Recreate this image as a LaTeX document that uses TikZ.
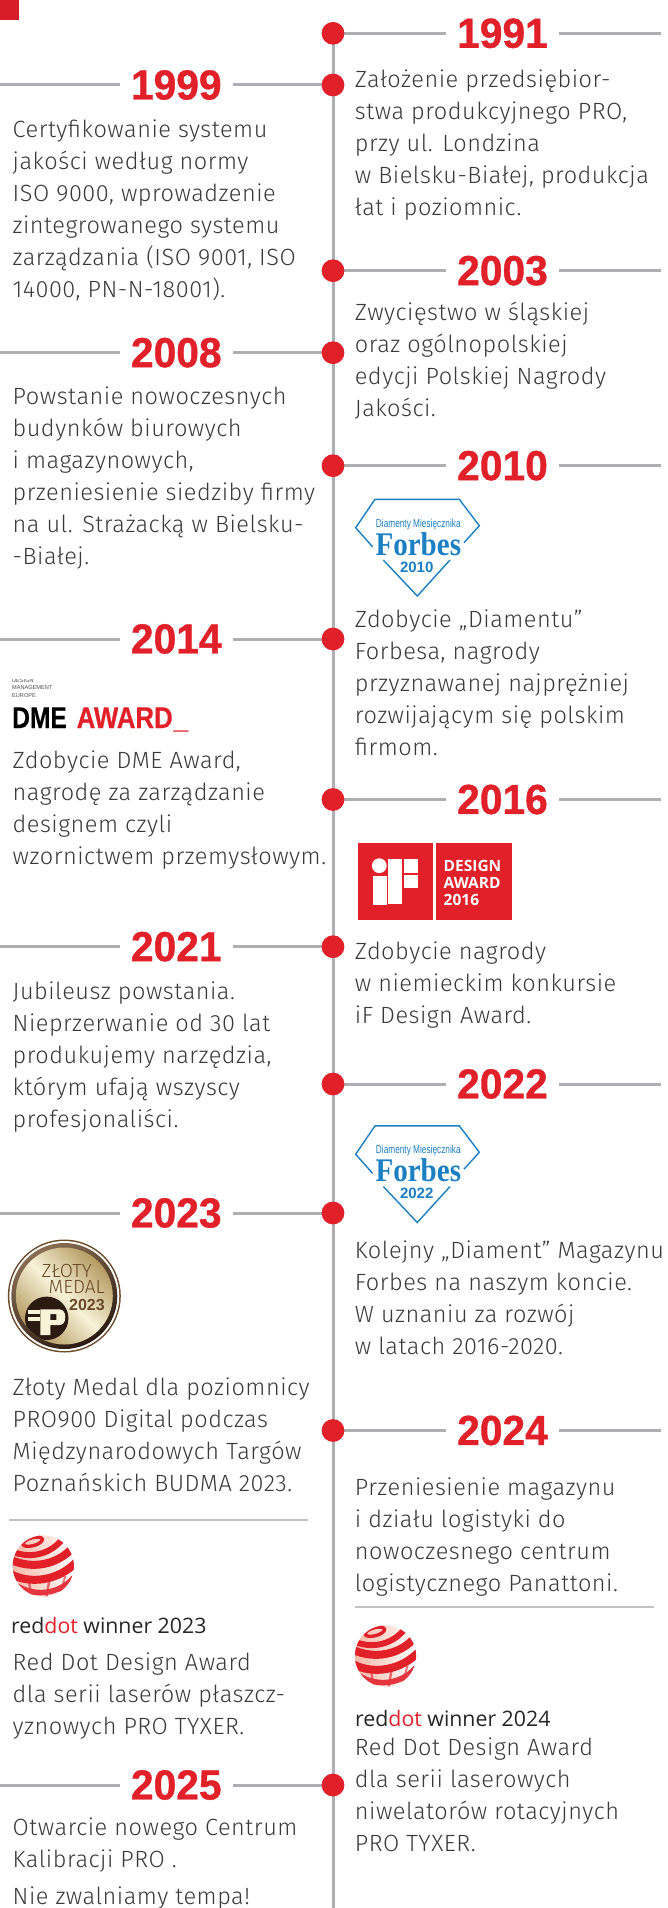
\documentclass[tikz,border=0pt]{standalone}
\usepackage{fontspec}
\setmainfont{Fira Sans Light}[LetterSpace=2.2]
\newfontfamily\yrfont{Liberation Sans Bold}[FakeBold=0.9,FakeStretch=0.97]
\newfontfamily\medalbold{Liberation Sans Bold}
\newfontfamily\fbsans{Liberation Sans}[FakeStretch=0.72]
\newfontfamily\fbsansb{Liberation Sans Bold}
\newfontfamily\fbserif{Liberation Serif Bold}[FakeStretch=0.88]
\newfontfamily\dmefont{Liberation Sans Bold}[FakeStretch=0.82,FakeBold=0.5]
\newfontfamily\awardfont{Liberation Sans Bold}[FakeStretch=0.86,FakeBold=0.5]
\newfontfamily\dmetiny{Liberation Sans}
\newfontfamily\rdfont{Open Sans}
\newfontfamily\ifont{Open Sans Bold}
\newfontfamily\medalfont{Fira Sans Light}
\definecolor{cred}{HTML}{E2202A}
\definecolor{cgray}{HTML}{AFAFB3}
\definecolor{cline}{HTML}{C2C2C7}
\definecolor{ctext}{HTML}{3A3A3C}
\definecolor{cblue}{HTML}{1B80C3}
\definecolor{cbrown}{HTML}{6A4A28}
\definecolor{cdark}{HTML}{2A1A10}
\definecolor{goldB}{HTML}{B49A60}
\definecolor{goldL}{HTML}{F8F2D8}
\definecolor{cpink}{HTML}{F6B8A6}
\pgfdeclarelayer{lines}
\pgfsetlayers{lines,main}
\tikzset{
  axisline/.style={draw=cgray,line width=3pt},
  septline/.style={draw=cline,line width=1.5pt},
  dotnode/.style={circle,fill=cred,minimum size=22.8pt,inner sep=0pt},
  yearnode/.style={text=cred,font=\fontsize{42}{42}\yrfont,minimum width=113pt,inner sep=0pt,anchor=center},
  bodytext/.style={text=ctext,font=\fontsize{23.5}{32}\selectfont,align=left,inner sep=0pt,anchor=north west},
  forbesline/.style={draw=cblue,line width=1.4pt},
  ballband/.style={draw=cred,line cap=round},
}
\newcommand{\blk}[4]{\node[bodytext] (#1) at (#2,#3-20) {\rule{0pt}{20pt}#4};}
\newcommand{\rightyear}[3]{%
  \node[dotnode] (d#1) at (333,#2) {};
  \node[yearnode] (y#1) at (502.5,#2) {#3};
  \coordinate (e#1) at (661,#2);
}
\newcommand{\leftyear}[3]{%
  \node[dotnode] (d#1) at (333,#2) {};
  \node[yearnode] (y#1) at (176.3,#2) {#3};
  \coordinate (e#1) at (0,#2);
}
\newcommand{\forbes}[3]{%
  \begin{scope}[shift={(340,#1)}]
    \draw[forbesline,line join=miter] (32.7,67) -- (15.7,47.7) -- (35,19.3) -- (119.3,19.3) -- (139.3,45.7) -- (124,62.7);
    \draw[forbesline,line join=miter] (43.3,80) -- (77.3,116) -- (110,80);
    \node[text=cblue,font=\fontsize{11.5}{12}\fbsans,inner sep=0pt] (fa#2) at (78.3,44.3) {Diamenty Miesięcznika};
    \node[text=cblue,font=\fontsize{33}{33}\fbserif,inner sep=0pt] (fb#2) at (78.3,64) {Forbes};
    \node[text=cblue,font=\fontsize{15}{15}\fbsansb,inner sep=0pt] (fc#2) at (76.7,87.3) {#3};
  \end{scope}
}
\newcommand{\rdball}[2]{%
  \begin{scope}[shift={(#1,#2)}]
    \clip (0,0) circle[radius=30.6pt];
    \shade[left color=cpink,right color=white] (-31,-31) rectangle (31,31);
    \draw[cred!70,line width=2.4pt] (-15,10) -- (-12,31);
    \draw[cred!70,line width=2.4pt] (6,14) -- (3,32);
    \draw[cred!60,line width=2pt] (22,10) -- (16,30);
    \draw[ballband,line width=3.4pt,rotate around={15:(-10.7,-24.3)}] (-10.7,-24.3) ellipse[x radius=10pt,y radius=4pt];
    \draw[ballband,line width=6pt] (-30,-14) .. controls (-12,-7) and (8,-12) .. (20,-28);
    \draw[ballband,line width=8pt] (-32,-6) .. controls (-12,3) and (14,0) .. (31,-20);
    \draw[ballband,line width=8pt] (-33,8) .. controls (-12,19) and (16,14) .. (33,-4);
    \draw[ballband,line width=5.5pt,cred!90] (-26,20) .. controls (-8,31) and (16,28) .. (30,12);
  \end{scope}
}
\begin{document}
\begin{tikzpicture}[x=1pt,y=-1pt]
\useasboundingbox (0,0) rectangle (668,1908);
\begin{pgfonlayer}{lines}
\fill[white] (0,0) rectangle (668,1908);
\end{pgfonlayer}
\fill[cred!95!black] (0,0) rectangle (19,20);
% ---- dots / years
\rightyear{a}{33.3}{1991}
\rightyear{b}{270.7}{2003}
\rightyear{c}{465.7}{2010}
\rightyear{d}{799.5}{2016}
\rightyear{e}{1084}{2022}
\rightyear{f}{1430.5}{2024}
\leftyear{g}{85}{1999}
\leftyear{h}{352.7}{2008}
\leftyear{i}{639}{2014}
\leftyear{j}{946.7}{2021}
\leftyear{k}{1213}{2023}
\leftyear{l}{1785}{2025}
\coordinate (axisend) at (333,1908);
\begin{pgfonlayer}{lines}
\draw[axisline] (da.center) -- (axisend);
\foreach \n in {a,b,c,d,e,f} {
  \draw[axisline] (d\n.center) -- (y\n.west);
  \draw[axisline] (y\n.east) -- (e\n);
}
\foreach \n in {g,h,i,j,k,l} {
  \draw[axisline] (e\n) -- (y\n.west);
  \draw[axisline] (y\n.east) -- (d\n.center);
}
\end{pgfonlayer}
% ---- right column
\blk{t1991}{354.7}{87}{Założenie przedsiębior-\\stwa produkcyjnego PRO,\\przy ul. Londzina\\w Bielsku-Białej, produkcja\\łat i poziomnic.}
\blk{t2003}{354.7}{320.7}{Zwycięstwo w śląskiej\\oraz ogólnopolskiej\\edycji Polskiej Nagrody\\Jakości.}
\forbes{480}{a}{2010}
\blk{t2010}{354.7}{627}{Zdobycie „Diamentu”\\Forbesa, nagrody\\przyznawanej najprężniej\\rozwijającym się polskim\\firmom.}
% iF logo
\fill[cred] (357.5,842.5) rectangle (432.7,920);
\fill[cred] (436.3,842.5) rectangle (511.7,920);
\begin{scope}[shift={(340,820)}]
  \fill[white] (39.3,45.7) circle[radius=7.4pt];
  \fill[white] (33,56) rectangle (47,85);
  \fill[white] (48,39.3) rectangle (62,84);
  \fill[white] (64,39.3) rectangle (78,53.3);
  \fill[white] (64,55) rectangle (78,68);
  \node[text=white,font=\fontsize{15.5}{17.2}\ifont,align=left,inner sep=0pt,anchor=north west] (iftext) at (103.5,40) {DESIGN\\AWARD\\2016};
\end{scope}
\blk{t2016}{354.7}{959}{Zdobycie nagrody\\w niemieckim konkursie\\iF Design Award.}
\forbes{1106.5}{b}{2022}
\blk{t2022}{354.7}{1258}{Kolejny „Diament” Magazynu\\Forbes na naszym koncie.\\W uznaniu za rozwój\\w latach 2016-2020.}
\blk{t2024}{354.7}{1495}{Przeniesienie magazynu\\i działu logistyki do\\nowoczesnego centrum\\logistycznego Panattoni.}
\coordinate (sepRa) at (355,1607);
\coordinate (sepRb) at (654,1607);
\draw[septline] (sepRa) -- (sepRb);
\rdball{385.5}{1656}
\node[anchor=base west,inner sep=0pt,font=\fontsize{21.3}{24}\rdfont,text=black!85] (rd24) at (355,1726) {red\textcolor{cred}{dot} winner 2024};
\blk{t2024b}{354.7}{1755}{Red Dot Design Award\\dla serii laserowych\\niwelatorów rotacyjnych\\PRO TYXER.}
% ---- left column
\blk{t1999}{12.5}{137}{Certyfikowanie systemu\\jakości według normy\\ISO 9000, wprowadzenie\\zintegrowanego systemu\\zarządzania (ISO 9001, ISO\\14000, PN-N-18001).}
\blk{t2008}{12.5}{404}{Powstanie nowoczesnych\\budynków biurowych\\i magazynowych,\\przeniesienie siedziby firmy\\na ul. Strażacką w Bielsku-\\-Białej.}
% DME logo
\begin{scope}
  \clip (0,679) rectangle (200,700);
  \node[anchor=base west,inner sep=0pt,font=\fontsize{5.6}{7.6}\dmetiny,text=black!70] (dmetop) at (12,682) {DESIGN};
  \node[anchor=base west,inner sep=0pt,font=\fontsize{5.6}{7.6}\dmetiny,text=black!70] (dmemid) at (12,689) {MANAGEMENT};
  \node[anchor=base west,inner sep=0pt,font=\fontsize{5.6}{7.6}\dmetiny,text=black!70] (dmelow) at (12,697) {EUROPE};
\end{scope}
\node[anchor=base west,inner sep=0pt,font=\fontsize{30}{30}\dmefont,text=black] (dmea) at (12,728) {DME};
\node[anchor=base west,inner sep=0pt,font=\fontsize{30}{30}\awardfont,text=cred] (dmeb) at (76.5,728) {AWARD\kern1pt\_};
\blk{t2014}{12.5}{768}{Zdobycie DME Award,\\nagrodę za zarządzanie\\designem czyli\\wzornictwem przemysłowym.}
\blk{t2021}{12.5}{999}{Jubileusz powstania.\\Nieprzerwanie od 30 lat\\produkujemy narzędzia,\\którym ufają wszyscy\\profesjonaliści.}
% Medal
\begin{scope}[shift={(64.3,1296)}]
  \fill[cbrown] (0,0) circle[radius=56.5pt];
  \fill[white] (0,0) circle[radius=55pt];
  \shade[top color=cbrown!80!white,bottom color=cdark,shading angle=30] (0,0) circle[radius=53pt];
  \shade[top color=goldB,bottom color=goldB,middle color=goldL,shading angle=-45] (0,0) circle[radius=48.5pt];
  \begin{scope}
    \clip (0,0) circle[radius=48.5pt];
    \fill[cdark] (-17.6,22.3) circle[radius=21.7pt];
    \fill[goldL,even odd rule] (-24,13.3) -- (-5,13.3) .. controls (-1,13.3) and (1,17) .. (1,21) .. controls (1,26) and (-1,29) .. (-5,29) -- (-14,29) -- (-14,39) -- (-24,39) -- cycle (-14,18) rectangle (-8,24);
    \fill[goldL] (-36,14) rectangle (-24,18);
    \fill[goldL] (-36,21.3) rectangle (-24,24.7);
  \end{scope}
  \node[text=cbrown,font=\fontsize{19}{19}\medalfont,inner sep=0pt] (m1) at (2.4,-25) {ZŁOTY};
  \node[text=cbrown,font=\fontsize{19}{19}\medalfont,inner sep=0pt] (m2) at (12.4,-9) {MEDAL};
  \node[text=cbrown,font=\fontsize{16}{16}\medalbold,inner sep=0pt] (m3) at (22.7,9) {2023};
\end{scope}
\blk{t2023}{12.5}{1395}{Złoty Medal  dla poziomnicy\\PRO900 Digital podczas\\Międzynarodowych Targów\\Poznańskich BUDMA 2023.}
\coordinate (sepLa) at (9,1520);
\coordinate (sepLb) at (308,1520);
\draw[septline] (sepLa) -- (sepLb);
\rdball{43.3}{1566}
\node[anchor=base west,inner sep=0pt,font=\fontsize{21.3}{24}\rdfont,text=black!85] (rd23) at (11,1633) {red\textcolor{cred}{dot} winner 2023};
\blk{t2023b}{12.5}{1670}{Red Dot Design Award\\dla serii laserów płaszcz-\\yznowych  PRO TYXER.}
\blk{t2025}{12.5}{1835}{Otwarcie nowego Centrum\\Kalibracji PRO .}
\blk{t2025b}{12.5}{1904}{Nie zwalniamy tempa!}
\end{tikzpicture}
\end{document}
